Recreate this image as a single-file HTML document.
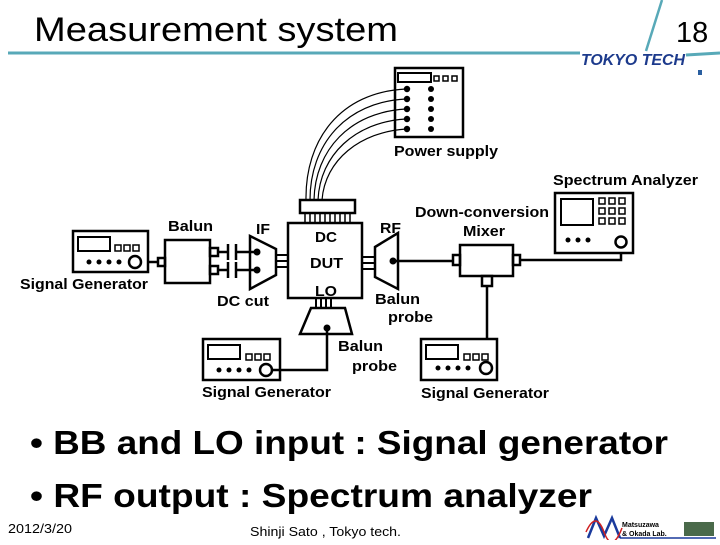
<!DOCTYPE html>
<html><head><style>
body{margin:0;width:720px;height:540px;background:#fff;overflow:hidden}
svg text{font-family:"Liberation Sans",Arial,sans-serif}
</style></head><body>
<svg width="720" height="540" viewBox="0 0 720 540" xmlns="http://www.w3.org/2000/svg">
<text x="34" y="41" font-size="34" textLength="364" lengthAdjust="spacingAndGlyphs">Measurement system</text>
<text x="676" y="42" font-size="29">18</text>
<line x1="8" y1="53" x2="580" y2="53" stroke="#58a9b8" stroke-width="3"/>
<line x1="686" y1="55" x2="720" y2="53" stroke="#58a9b8" stroke-width="3"/>
<line x1="662" y1="0" x2="646" y2="51" stroke="#58a9b8" stroke-width="2.5"/>
<text x="581" y="65" font-size="16" font-weight="bold" font-style="italic" fill="#1c3a8c" textLength="104" lengthAdjust="spacingAndGlyphs">TOKYO TECH</text>
<rect x="698" y="70" width="4" height="5" fill="#2a5fa0"/>

<g fill="none" stroke="#000" stroke-width="2.5">
<rect x="395" y="68" width="68" height="69" fill="#fff"/>
<rect x="398" y="73" width="33" height="9" stroke-width="2"/>
<rect x="434" y="76" width="5" height="5" stroke-width="1.5"/>
<rect x="443" y="76" width="5" height="5" stroke-width="1.5"/>
<rect x="452" y="76" width="5" height="5" stroke-width="1.5"/>
<g stroke-width="1.2">
<path d="M406 89 C340 92 305 140 306 200"/>
<path d="M406 99 C345 102 310 145 310 200"/>
<path d="M406 109 C350 112 315 150 314 200"/>
<path d="M406 119 C355 122 320 155 318 200"/>
<path d="M406 129 C360 132 325 160 322 200"/>
</g>
<rect x="300" y="200" width="55" height="13" fill="#fff"/>
<path d="M305 213v10M310 213v10M315 213v10M320 213v10M325 213v10M330 213v10M335 213v10M340 213v10M345 213v10M350 213v10" stroke-width="1.5"/>
<rect x="288" y="223" width="74" height="75" fill="#fff"/>
<path d="M276 255h12M276 261h12M276 267h12" stroke-width="2"/>
<path d="M250 236 L276 249 L276 275 L250 289 Z" fill="#fff"/>
<path d="M218 252h10M228 244v16M236 244v16M236 252h21"/>
<path d="M218 270h10M228 262v16M236 262v16M236 270h21"/>
<rect x="165" y="240" width="45" height="43" fill="#fff"/>
<rect x="210" y="248" width="8" height="8"/>
<rect x="210" y="266" width="8" height="8"/>
<rect x="158" y="258" width="7" height="8"/>
<path d="M142 262h16"/>
<rect x="73" y="231" width="75" height="41" fill="#fff"/>
<rect x="78" y="237" width="32" height="14" stroke-width="2"/>
<rect x="115" y="245" width="6" height="6" stroke-width="1.5"/>
<rect x="124" y="245" width="6" height="6" stroke-width="1.5"/>
<rect x="133" y="245" width="6" height="6" stroke-width="1.5"/>
<circle cx="135" cy="262" r="6"/>
<path d="M362 257h13M362 263h13M362 269h13" stroke-width="2"/>
<path d="M375 247 L398 233 L398 289 L375 277 Z" fill="#fff"/>
<path d="M393 261H453"/>
<rect x="460" y="245" width="53" height="31" fill="#fff"/>
<rect x="453" y="255" width="7" height="10"/>
<rect x="513" y="255" width="7" height="10"/>
<rect x="482" y="276" width="10" height="10"/>
<path d="M520 260H621V248"/>
<path d="M487 286V362"/>
<rect x="555" y="193" width="78" height="60" fill="#fff"/>
<rect x="561" y="199" width="32" height="26" stroke-width="2"/>
<g stroke-width="1.5">
<rect x="599" y="198" width="6" height="6"/><rect x="609" y="198" width="6" height="6"/><rect x="619" y="198" width="6" height="6"/>
<rect x="599" y="208" width="6" height="6"/><rect x="609" y="208" width="6" height="6"/><rect x="619" y="208" width="6" height="6"/>
<rect x="599" y="218" width="6" height="6"/><rect x="609" y="218" width="6" height="6"/><rect x="619" y="218" width="6" height="6"/>
</g>
<circle cx="621" cy="242" r="5.5"/>
<path d="M316 298v10M321 298v10M326 298v10M331 298v10" stroke-width="2"/>
<path d="M311 308 L345 308 L352 334 L300 334 Z" fill="#fff"/>
<rect x="203" y="339" width="77" height="41" fill="#fff"/>
<rect x="208" y="345" width="32" height="14" stroke-width="2"/>
<rect x="246" y="354" width="6" height="6" stroke-width="1.5"/><rect x="255" y="354" width="6" height="6" stroke-width="1.5"/><rect x="264" y="354" width="6" height="6" stroke-width="1.5"/>
<circle cx="266" cy="370" r="6"/>
<rect x="421" y="339" width="76" height="41" fill="#fff"/>
<rect x="426" y="345" width="32" height="14" stroke-width="2"/>
<rect x="464" y="354" width="6" height="6" stroke-width="1.5"/><rect x="473" y="354" width="6" height="6" stroke-width="1.5"/><rect x="482" y="354" width="6" height="6" stroke-width="1.5"/>
<circle cx="486" cy="368" r="6"/>
<path d="M327 328V370H272"/>
</g>
<g fill="#000">
<circle cx="407" cy="89" r="3.2"/><circle cx="407" cy="99" r="3.2"/><circle cx="407" cy="109" r="3.2"/><circle cx="407" cy="119" r="3.2"/><circle cx="407" cy="129" r="3.2"/>
<circle cx="431" cy="89" r="3"/><circle cx="431" cy="99" r="3"/><circle cx="431" cy="109" r="3"/><circle cx="431" cy="119" r="3"/><circle cx="431" cy="129" r="3"/>
<circle cx="257" cy="252" r="3.5"/><circle cx="257" cy="270" r="3.5"/>
<circle cx="393" cy="261" r="3.5"/><circle cx="327" cy="328" r="3.5"/>
<circle cx="89" cy="262" r="2.5"/><circle cx="99" cy="262" r="2.5"/><circle cx="109" cy="262" r="2.5"/><circle cx="119" cy="262" r="2.5"/>
<circle cx="219" cy="370" r="2.5"/><circle cx="229" cy="370" r="2.5"/><circle cx="239" cy="370" r="2.5"/><circle cx="249" cy="370" r="2.5"/>
<circle cx="438" cy="368" r="2.5"/><circle cx="448" cy="368" r="2.5"/><circle cx="458" cy="368" r="2.5"/><circle cx="468" cy="368" r="2.5"/>
<circle cx="568" cy="240" r="2.5"/><circle cx="578" cy="240" r="2.5"/><circle cx="588" cy="240" r="2.5"/>
</g>
<g font-size="15" font-weight="bold">
<text x="394" y="156" textLength="104" lengthAdjust="spacingAndGlyphs">Power supply</text>
<text x="553" y="185" textLength="145" lengthAdjust="spacingAndGlyphs">Spectrum Analyzer</text>
<text x="415" y="217" textLength="134" lengthAdjust="spacingAndGlyphs">Down-conversion</text>
<text x="463" y="236" textLength="42" lengthAdjust="spacingAndGlyphs">Mixer</text>
<text x="168" y="231" textLength="45" lengthAdjust="spacingAndGlyphs">Balun</text>
<text x="256" y="234" textLength="14" lengthAdjust="spacingAndGlyphs">IF</text>
<text x="380" y="233" textLength="21" lengthAdjust="spacingAndGlyphs">RF</text>
<text x="315" y="242" textLength="22" lengthAdjust="spacingAndGlyphs">DC</text>
<text x="310" y="268" textLength="33" lengthAdjust="spacingAndGlyphs">DUT</text>
<text x="315" y="296" textLength="22" lengthAdjust="spacingAndGlyphs">LO</text>
<text x="20" y="289" textLength="128" lengthAdjust="spacingAndGlyphs">Signal Generator</text>
<text x="217" y="306" textLength="52" lengthAdjust="spacingAndGlyphs">DC cut</text>
<text x="375" y="304" textLength="45" lengthAdjust="spacingAndGlyphs">Balun</text>
<text x="388" y="322" textLength="45" lengthAdjust="spacingAndGlyphs">probe</text>
<text x="338" y="351" textLength="45" lengthAdjust="spacingAndGlyphs">Balun</text>
<text x="352" y="371" textLength="45" lengthAdjust="spacingAndGlyphs">probe</text>
<text x="202" y="397" textLength="129" lengthAdjust="spacingAndGlyphs">Signal Generator</text>
<text x="421" y="398" textLength="128" lengthAdjust="spacingAndGlyphs">Signal Generator</text>
</g>
<g font-size="33" font-weight="bold">
<text x="30" y="454" textLength="638" lengthAdjust="spacingAndGlyphs">• BB and LO input : Signal generator</text>
<text x="30" y="507" textLength="562" lengthAdjust="spacingAndGlyphs">• RF output : Spectrum analyzer</text>
</g>
<text x="8" y="533" font-size="13" textLength="64" lengthAdjust="spacingAndGlyphs">2012/3/20</text>
<text x="250" y="536" font-size="13" textLength="151" lengthAdjust="spacingAndGlyphs">Shinji Sato , Tokyo tech.</text>
<path d="M588 538 L596 518 L604 536 L612 518 L620 538" fill="none" stroke="#1a3a9c" stroke-width="2.5"/>
<path d="M586 532 Q596 510 604 532 T622 528" fill="none" stroke="#d02020" stroke-width="1.5"/>
<text x="622" y="527" font-size="7" font-weight="bold">Matsuzawa</text>
<text x="622" y="536" font-size="7" font-weight="bold">&amp; Okada Lab.</text>
<rect x="684" y="522" width="30" height="14" fill="#4a6a4a"/>
<line x1="620" y1="538" x2="716" y2="538" stroke="#1a3a9c" stroke-width="1.5"/>
</svg>
</body></html>
